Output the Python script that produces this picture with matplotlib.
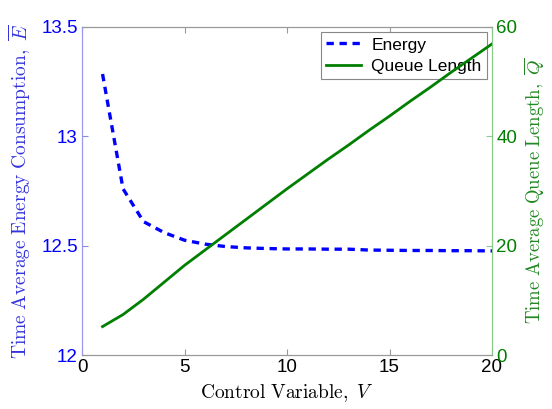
import matplotlib
matplotlib.use("Agg")
import matplotlib.pyplot as plt

plt.rcParams['mathtext.fontset'] = 'cm'
plt.rcParams['font.family'] = ['Liberation Sans', 'DejaVu Sans']

V = list(range(1, 21))
energy = [13.285, 12.76, 12.61, 12.56, 12.525, 12.507, 12.496, 12.49, 12.487, 12.485,
          12.485, 12.484, 12.484, 12.48, 12.479, 12.478, 12.478, 12.477, 12.477, 12.476]
queue = [5.2, 7.4, 10.2, 13.3, 16.4, 19.2, 22.0, 24.8, 27.6, 30.4,
         33.1, 35.8, 38.4, 41.1, 43.7, 46.4, 49.0, 51.7, 54.3, 56.9]

xticks = [0, 5, 10, 15, 20]
eticks = [12, 12.5, 13, 13.5]
eticklabels = ['12', '12.5', '13', '13.5']
qticks = [0, 20, 40, 60]

blue = '#0000ff'
green = '#007f00'
lblue = '#3333dd'
lgreen = '#228822'

fig = plt.figure(figsize=(5.52, 4.09), dpi=100)
ax = fig.add_axes([0.1486, 0.132, 0.7427, 0.802])
ax2 = ax.twinx()

l1, = ax.plot(V, energy, color=blue, lw=2.4, dashes=(2.2, 1.7), label='Energy')
l2, = ax2.plot(V, queue, color=green, lw=2.0, label='Queue Length')

ax.set_xlim(0, 20)
ax.set_ylim(12, 13.5)
ax2.set_ylim(0, 60)
ax.set_xticks(xticks)
ax.set_yticks(eticks)
ax.set_yticklabels(eticklabels)
ax2.set_yticks(qticks)

ax.tick_params(axis='x', direction='in', labelsize=13.5, colors='#999999', labelcolor='black', length=4, pad=3)
ax.tick_params(axis='y', direction='in', labelsize=13.5, colors='#8888ee', labelcolor=blue, length=4, pad=3)
ax2.tick_params(axis='y', direction='in', labelsize=13.5, colors='#88cc88', labelcolor=green, length=4, pad=3)
ax.tick_params(top=True, which='both')

for a in (ax, ax2):
    a.spines['top'].set_color('#999999')
    a.spines['bottom'].set_color('#999999')
    a.spines['left'].set_color('#9999ee')
    a.spines['right'].set_color('#88cc88')

ax.set_xlabel(r'$\mathrm{Control\ Variable,}\ V$', fontsize=14, labelpad=4)
ax.set_ylabel(r'$\mathrm{Time\ Average\ Energy\ Consumption,}\ \overline{E}$', fontsize=14,
              color=lblue, labelpad=6)
ax2.set_ylabel(r'$\mathrm{Time\ Average\ Queue\ Length,}\ \overline{Q}$', fontsize=13.5,
               color=lgreen, labelpad=4)

leg = ax.legend(handles=[l1, l2], loc='upper right', fontsize=12.5, fancybox=False,
                framealpha=1, edgecolor='#888888', borderaxespad=0.3, handlelength=2.0,
                borderpad=0.3, labelspacing=0.35, handletextpad=0.6)
leg.get_frame().set_linewidth(0.8)

fig.savefig('out.png', dpi=100)
